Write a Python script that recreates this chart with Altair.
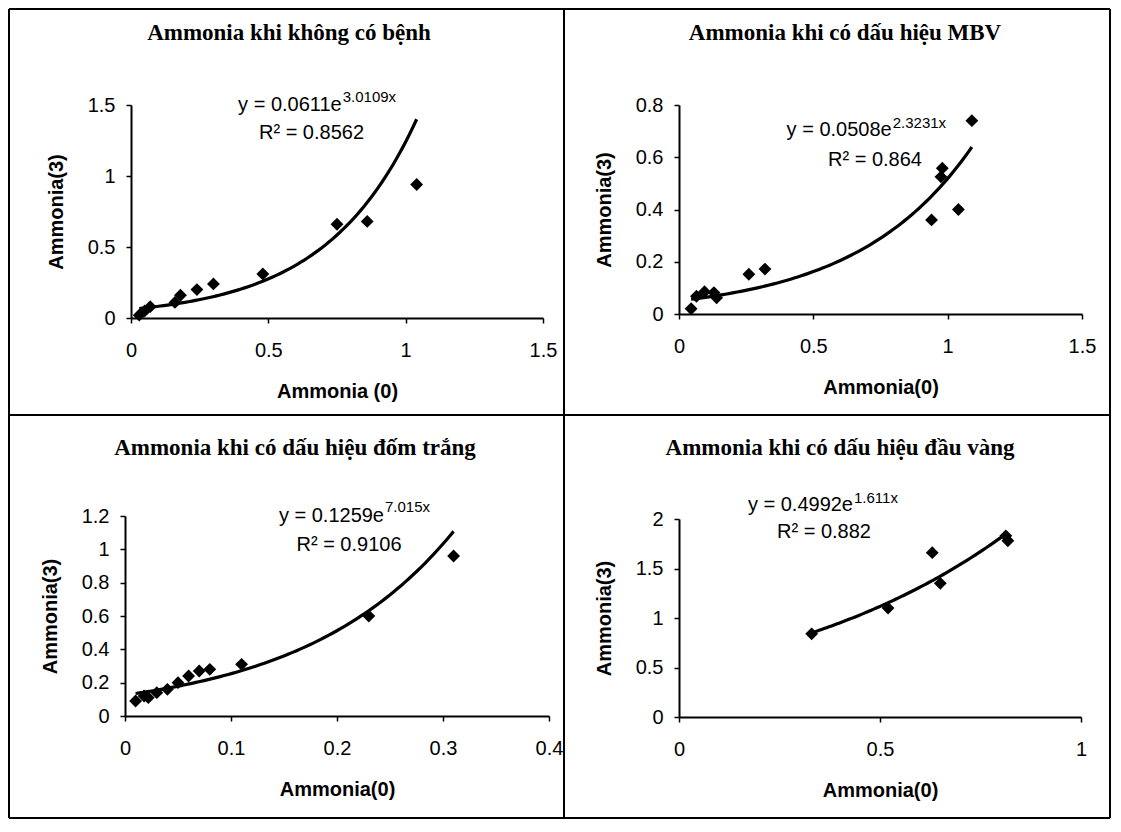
import altair as alt
import numpy as np
import pandas as pd

# ---------------- data ----------------
titles = ["Ammonia khi không có bệnh", "Ammonia khi có dấu hiệu MBV",
          "Ammonia khi có dấu hiệu đốm trắng", "Ammonia khi có dấu hiệu đầu vàng"]
x_titles = ["Ammonia (0)", "Ammonia(0)", "Ammonia(0)", "Ammonia(0)"]
y_title = "Ammonia(3)"

p1_x = [0.03, 0.05, 0.07, 0.16, 0.18, 0.24, 0.30, 0.48, 0.75, 0.86, 1.04]
p1_y = [0.02, 0.05, 0.08, 0.11, 0.16, 0.20, 0.24, 0.31, 0.66, 0.68, 0.94]

p2_x = [0.045, 0.065, 0.095, 0.13, 0.14, 0.26, 0.32, 0.94, 0.975, 0.98, 1.04, 1.09]
p2_y = [0.02, 0.068, 0.085, 0.082, 0.062, 0.152, 0.172, 0.36, 0.525, 0.558, 0.40, 0.74]

p3_x = [0.01, 0.018, 0.022, 0.03, 0.04, 0.05, 0.06, 0.07, 0.08, 0.11, 0.23, 0.31]
p3_y = [0.09, 0.12, 0.11, 0.14, 0.16, 0.20, 0.24, 0.27, 0.28, 0.31, 0.60, 0.96]

p4_x = [0.33, 0.52, 0.63, 0.65, 0.813, 0.818]
p4_y = [0.84, 1.10, 1.66, 1.35, 1.83, 1.78]

# trend-line coefficients y = a * exp(b x) as printed
coef_a = [0.0611, 0.0508, 0.1259, 0.4992]
coef_b = [3.0109, 2.3231, 7.015, 1.611]
eq_base = ["y = 0.0611e", "y = 0.0508e", "y = 0.1259e", "y = 0.4992e"]
eq_exp = ["3.0109x", "2.3231x", "7.015x", "1.611x"]
r2_text = ["R² = 0.8562", "R² = 0.864", "R² = 0.9106", "R² = 0.882"]

x_domains = [[0, 1.5], [0, 1.5], [0, 0.4], [0, 1]]
y_domains = [[0, 1.5], [0, 0.8], [0, 1.2], [0, 2]]
x_ticks = [[0, 0.5, 1, 1.5], [0, 0.5, 1, 1.5], [0, 0.1, 0.2, 0.3, 0.4], [0, 0.5, 1]]
y_ticks = [[0, 0.5, 1, 1.5], [0, 0.2, 0.4, 0.6, 0.8], [0, 0.2, 0.4, 0.6, 0.8, 1, 1.2],
           [0, 0.5, 1, 1.5, 2]]

SANS = "Liberation Sans"
SERIF = "Liberation Serif"


def text_layer(label, x, y, font=SANS, size=20, weight="normal", align="center"):
    df = pd.DataFrame({"label": [label]})
    return alt.Chart(df).mark_text(
        font=font, fontSize=size, fontWeight=weight, align=align,
        baseline="middle", color="black"
    ).encode(x=alt.value(x), y=alt.value(y), text="label:N")


def panel(i, xs, ys, W, H, xr, yr, xoff, yoff, layout):
    pts = pd.DataFrame({"x": xs, "y": ys})
    xgrid = pd.DataFrame({"x": np.linspace(min(xs), max(xs), 80)})
    xscale = alt.Scale(domain=x_domains[i], range=xr, nice=False, zero=False)
    yscale = alt.Scale(domain=y_domains[i], range=yr, nice=False, zero=False)
    common = dict(domainColor="black", domainWidth=2, tickColor="black", tickWidth=1.5,
                  tickSize=5, labelFont=SANS, labelFontSize=20, labelColor="black",
                  labelOverlap=False, labelFlush=False, labelBound=False, grid=False,
                  labelSeparation=0, format="~g", titleFont=SANS, titleFontSize=20,
                  titleFontWeight="bold", titleColor="black")
    xaxis = alt.Axis(values=x_ticks[i], title=x_titles[i], labelBaseline="middle",
                     labelPadding=27, offset=xoff, titleY=73, titleBaseline="middle",
                     **common)
    yaxis = alt.Axis(values=y_ticks[i], title=y_title, labelPadding=11, offset=yoff,
                     titleX=-75, titleBaseline="middle", titleAngle=-90,
                     labelBaseline="middle", titleY=(yr[0] + yr[1]) / 2, **common)
    points = alt.Chart(pts).mark_point(shape="diamond", filled=True, size=165,
                                       color="black", opacity=1).encode(
        x=alt.X("x:Q", scale=xscale, axis=xaxis),
        y=alt.Y("y:Q", scale=yscale, axis=yaxis),
    )
    trend = alt.Chart(xgrid).transform_calculate(
        y=f"{coef_a[i]} * exp({coef_b[i]} * datum.x)"
    ).mark_line(color="black", strokeWidth=3.2).encode(
        x=alt.X("x:Q", scale=xscale, axis=xaxis),
        y=alt.Y("y:Q", scale=yscale, axis=yaxis),
    )
    (tx, ty), (ex, ey, eey), (rx, ry) = layout
    layers = [
        trend, points,
        text_layer(titles[i], tx, ty, font=SERIF, size=23, weight="bold"),
        text_layer(eq_base[i], ex, ey, align="right"),
        text_layer(eq_exp[i], ex + 1, eey, size=15, align="left"),
        text_layer(r2_text[i], rx, ry),
    ]
    return alt.layer(*layers).properties(width=W, height=H)


# frame (drawn from the top-left panel, pixel offsets relative to its plot area)
def vrule(x, y1, y2):
    return alt.Chart(pd.DataFrame({"k": [0]})).mark_rule(color="black", strokeWidth=2).encode(
        x=alt.value(x), y=alt.value(y1), y2=alt.value(y2))


def hrule(y, x1, x2):
    return alt.Chart(pd.DataFrame({"k": [0]})).mark_rule(color="black", strokeWidth=2).encode(
        y=alt.value(y), x=alt.value(x1), x2=alt.value(x2))


L, R, T, B, VX, HY = -116, 985, -96, 713, 439, 310
frame = [vrule(L, T, B), vrule(VX, T, B), vrule(R, T, B),
         hrule(T, L, R), hrule(HY, L, R), hrule(B, L, R)]

p1 = panel(0, p1_x, p1_y, 424, 213, [6, 418], [213, 0], 0, -6,
           ((164, -72), (216.7, 0, -8), (186.5, 28)))
p1 = alt.layer(p1, *frame)
p2 = panel(1, p2_x, p2_y, 403, 213, [0, 403], [209, 0], -4, 0,
           ((166, -72), (212.7, 25, 17.7), (196, 55)))
p3 = panel(2, p3_x, p3_y, 424, 201, [0, 424], [200, 0], -1, 0,
           ((170, -68), (259, 0, -9), (224, 29)))
p4 = panel(3, p4_x, p4_y, 403, 201, [0, 402], [201, 3], 0, 0,
           ((161, -68), (174, -11, -18), (145, 15.7)))

# with flush bounds a nested row counts as zero height, so the row gap
# includes the height of the first row (213 + 198)
chart = alt.vconcat(
    alt.hconcat(p1, p2, spacing=130, bounds="flush"),
    alt.hconcat(p3, p4, spacing=130, bounds="flush"),
    spacing=411, bounds="flush",
).properties(padding=0, background="white").configure_view(
    strokeWidth=0
).configure_axis(labelOverlap=False)

chart.save("out.html", embed_options={"renderer": "svg", "actions": False})
